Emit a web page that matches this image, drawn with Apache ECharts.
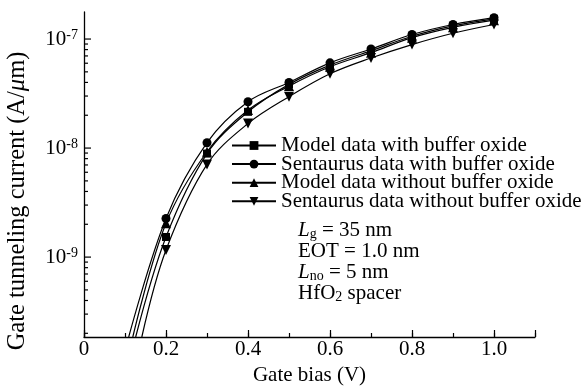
<!DOCTYPE html>
<html>
<head>
<meta charset="utf-8">
<script src="https://cdn.jsdelivr.net/npm/echarts@6/dist/echarts.min.js"></script>
<style>html,body{margin:0;padding:0;background:#fff}#c{width:587px;height:392px}</style>
</head>
<body>
<div id="c"></div>
<script>
// ---- data ----
const gateBias = [0.2, 0.3, 0.4, 0.5, 0.6, 0.7, 0.8, 0.9, 1.0];
const modelWith = [1.53e-9, 8.9e-9, 2.15e-8, 3.84e-8, 5.77e-8, 7.8e-8, 1.06e-7, 1.32e-7, 1.53e-7];
const sentaurusWith = [2.26e-9, 1.12e-8, 2.66e-8, 4.0e-8, 6.05e-8, 8.1e-8, 1.10e-7, 1.36e-7, 1.57e-7];
const modelWithout = [2.04e-9, 9.25e-9, 2.23e-8, 3.7e-8, 5.57e-8, 7.5e-8, 1.03e-7, 1.28e-7, 1.49e-7];
const sentaurusWithout = [1.16e-9, 7.08e-9, 1.68e-8, 2.96e-8, 4.8e-8, 6.7e-8, 8.9e-8, 1.13e-7, 1.36e-7];
// where each curve leaves the plot at the bottom edge
const tailBias = { modelWith: 0.126, sentaurusWith: 0.109, modelWithout: 0.119, sentaurusWithout: 0.141 };
const yMin = 1.85e-10, yMax = 1.77e-7;
const yMajorTicks = [1e-9, 1e-8, 1e-7];
const yMinorTicks = [2e-10,3e-10,4e-10,5e-10,6e-10,7e-10,8e-10,9e-10,
                     2e-9,3e-9,4e-9,5e-9,6e-9,7e-9,8e-9,9e-9,
                     2e-8,3e-8,4e-8,5e-8,6e-8,7e-8,8e-8,9e-8];
const seriesNames = ['Model data with buffer oxide', 'Sentaurus data with buffer oxide',
                     'Model data without buffer oxide', 'Sentaurus data without buffer oxide'];

const FONT = '"Liberation Serif", "Times New Roman", serif';

function buildData(key, vals) {
  const d = [{ value: [tailBias[key], yMin], symbol: 'none' }];
  gateBias.forEach((x, i) => d.push([x, vals[i]]));
  return d;
}

const lineCommon = {
  type: 'line', smooth: 0.35, xAxisIndex: 0, yAxisIndex: 0,
  lineStyle: { color: '#000', width: 1.2 },
  itemStyle: { color: '#000' },
  emphasis: { disabled: true }, animation: false, z: 3
};

const chart = echarts.init(document.getElementById('c'), null, { renderer: 'canvas' });
chart.setOption({
  animation: false,
  backgroundColor: '#fff',
  grid: { left: 84, right: 52, top: 12, bottom: 55, containLabel: false, outerBoundsMode: 'none' },
  legend: {
    data: seriesNames,
    orient: 'vertical', left: 231, top: 135, padding: 0,
    itemWidth: 44, itemHeight: 11, itemGap: -2.4,
    textStyle: { color: '#000', fontSize: 21, fontFamily: FONT, lineHeight: 18.3 },
    selectedMode: false
  },
  xAxis: [{
    type: 'value', min: 0, max: 1.1, interval: 0.2, position: 'bottom',
    name: 'Gate bias (V)', nameLocation: 'middle', nameGap: 25,
    nameTextStyle: { color: '#000', fontSize: 21, fontFamily: FONT },
    axisLine: { lineStyle: { color: '#000', width: 1.3 } },
    axisTick: { inside: true, length: 7, lineStyle: { color: '#000', width: 1.2 } },
    axisLabel: { color: '#000', fontSize: 21, fontFamily: FONT, margin: 2,
      formatter: v => v === 0 ? '0' : (v > 1.05 ? '' : v.toFixed(1)) },
    splitLine: { show: false }
  }, {
    type: 'value', min: 0, max: 1.1, interval: 0.1, position: 'bottom', gridIndex: 0,
    axisLine: { show: false }, axisLabel: { show: false },
    axisTick: { inside: true, length: 4, lineStyle: { color: '#000', width: 1.2 } },
    splitLine: { show: false }
  }],
  yAxis: {
    type: 'log', logBase: 10, min: yMin, max: yMax,
    axisLine: { show: true, lineStyle: { color: '#000', width: 1.3 } },
    axisTick: { show: false },
    splitLine: { show: false },
    axisLabel: {
      margin: 6, color: '#000', fontFamily: FONT,
      formatter: v => {
        const e = Math.log10(v);
        if (Math.abs(e - Math.round(e)) > 1e-6) return '';
        return '{b|10}{s|' + Math.round(e) + '}';
      },
      rich: {
        b: { fontSize: 21, fontFamily: FONT, color: '#000', lineHeight: 21 },
        s: { fontSize: 14, fontFamily: FONT, color: '#000', lineHeight: 8, verticalAlign: 'top' }
      }
    }
  },
  graphic: [{
    type: 'text', x: 18, y: 201, rotation: Math.PI / 2,
    style: {
      text: '{n|Gate tunneling current (A/}{i|μ}{n|m)}',
      textAlign: 'center', textVerticalAlign: 'middle',
      rich: {
        n: { fontSize: 24.5, fontFamily: FONT, fill: '#000' },
        i: { fontSize: 24.5, fontFamily: FONT, fontStyle: 'italic', fill: '#000' }
      }
    }
  }, {
    type: 'text', x: 298, y: 220,
    style: {
      text: '{i|L}{sub|g}{n| = 35 nm}\n{n|EOT = 1.0 nm}\n{i|L}{sub|no}{n| = 5 nm}\n{n|HfO}{sub|2}{n| spacer}',
      textAlign: 'left', textVerticalAlign: 'top',
      rich: {
        n: { fontSize: 21, fontFamily: FONT, fill: '#000', lineHeight: 21 },
        i: { fontSize: 21, fontFamily: FONT, fontStyle: 'italic', fill: '#000', lineHeight: 21 },
        sub: { fontSize: 14, fontFamily: FONT, fill: '#000', lineHeight: 9, verticalAlign: 'bottom' }
      }
    }
  }],
  series: [
    Object.assign({}, lineCommon, { name: seriesNames[0], symbol: 'rect', symbolSize: 8,
      data: buildData('modelWith', modelWith) }),
    Object.assign({}, lineCommon, { name: seriesNames[1], symbol: 'circle', symbolSize: 9,
      data: buildData('sentaurusWith', sentaurusWith) }),
    Object.assign({}, lineCommon, { name: seriesNames[2], symbol: 'triangle', symbolSize: 10,
      data: buildData('modelWithout', modelWithout) }),
    Object.assign({}, lineCommon, { name: seriesNames[3], symbol: 'triangle', symbolSize: 10, symbolRotate: 180,
      data: buildData('sentaurusWithout', sentaurusWithout) }),
    {
      type: 'custom', xAxisIndex: 0, yAxisIndex: 0, silent: true, clip: false, z: 4,
      data: yMajorTicks.map(v => [0, v, 7]).concat(yMinorTicks.map(v => [0, v, 4])),
      encode: { x: 0, y: 1 },
      renderItem: (params, api) => {
        const p = api.coord([api.value(0), api.value(1)]);
        const len = api.value(2);
        return { type: 'line', shape: { x1: p[0], y1: p[1], x2: p[0] + len, y2: p[1] },
                 style: { stroke: '#000', lineWidth: 1.2 } };
      }
    }
  ]
});
</script>
</body>
</html>
